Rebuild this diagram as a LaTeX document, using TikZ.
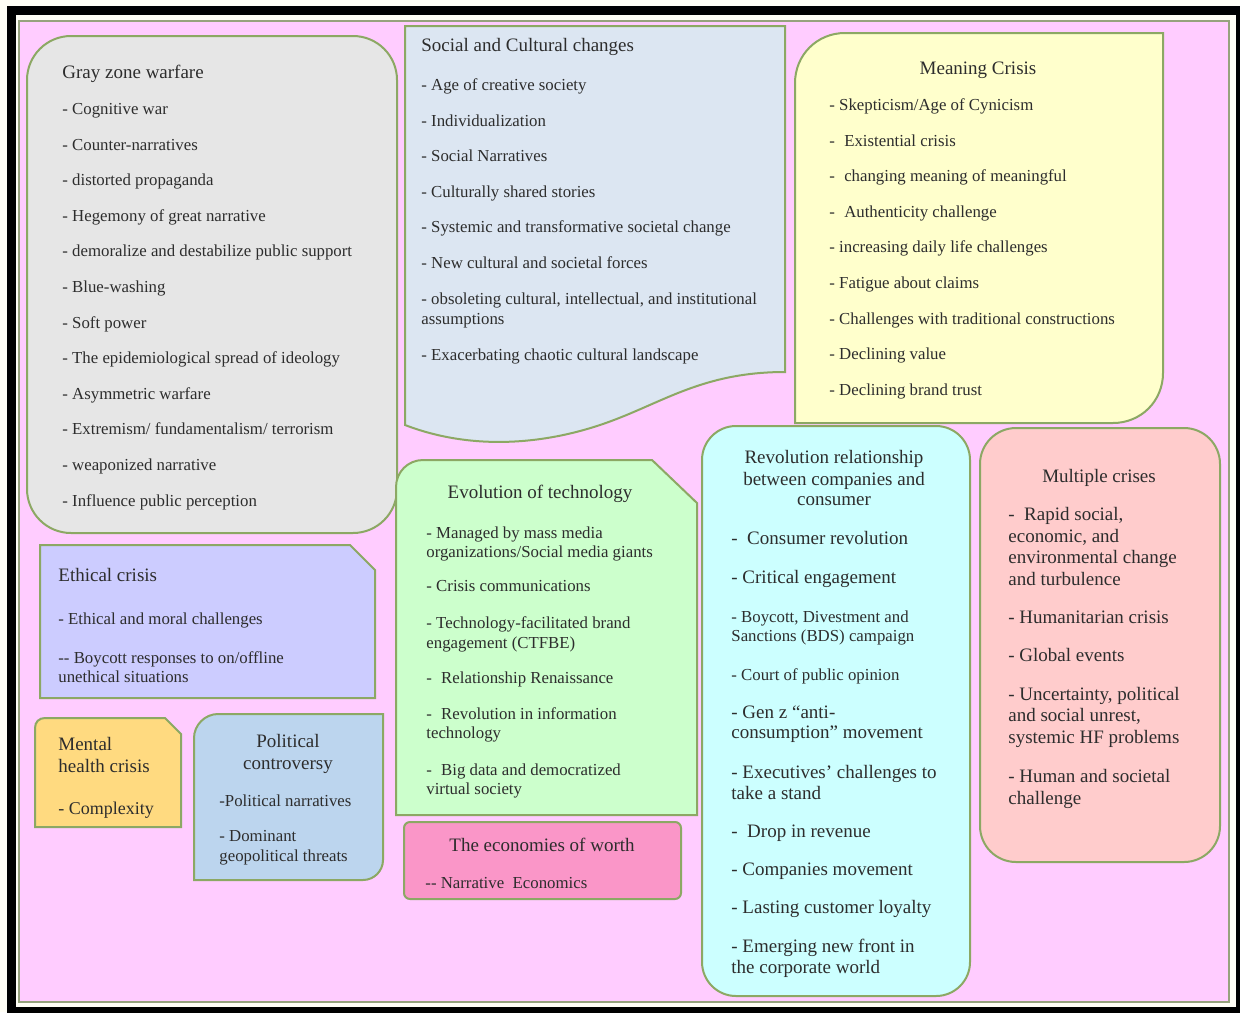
\documentclass[tikz,border=0pt]{standalone}
\usepackage{fontspec}
\setmainfont{Liberation Serif}
\usetikzlibrary{positioning}

\definecolor{pinkbg}{RGB}{255,204,255}
\definecolor{boxedge}{RGB}{140,168,100}
\definecolor{framegreen}{RGB}{150,162,125}
\definecolor{txt}{RGB}{45,45,45}
\definecolor{grayfill}{RGB}{230,230,230}
\definecolor{socfill}{RGB}{220,230,242}
\definecolor{meanfill}{RGB}{255,255,204}
\definecolor{ethfill}{RGB}{204,204,255}
\definecolor{mentfill}{RGB}{255,218,128}
\definecolor{polfill}{RGB}{188,213,238}
\definecolor{evofill}{RGB}{204,255,204}
\definecolor{econfill}{RGB}{250,150,200}
\definecolor{revfill}{RGB}{204,255,255}
\definecolor{multfill}{RGB}{255,204,204}

\tikzset{
  box/.style={draw=boxedge,line width=1pt},
  ttl/.style={anchor=mid west,inner sep=0pt,yshift=-1pt,text=txt,font=\fontsize{9.5}{11}\selectfont},
  ctr/.style={ttl,anchor=mid},
  itm/.style={anchor=mid west,inner sep=0pt,yshift=-1pt,text=txt,font=\fontsize{8.4}{10}\selectfont},
  bitm/.style={itm,font=\fontsize{9.5}{11}\selectfont},
}

\begin{document}
\begin{tikzpicture}[x=0.5pt,y=-0.5pt]
\useasboundingbox (0,0) rectangle (1240,1012);
% frame
\fill[white!96!yellow] (0,0) rectangle (1240,1012);
\draw[line width=4.5pt] (11,10) rectangle (1240,1011);
\draw[framegreen,fill=pinkbg,line width=1pt] (19,21) rectangle (1229,1002);

% boxes
\draw[box,fill=grayfill,rounded corners=22pt] (27,36) rectangle (397,533);
\draw[box,fill=socfill] (405,26) -- (785,26) -- (785,372)
  .. controls (700,372) and (660,405) .. (600,425)
  .. controls (540,445) and (470,450) .. (405,425) -- cycle;
\draw[box,fill=meanfill] (795,423) -- (795,83) .. controls (795,55) and (817,33) .. (845,33)
  -- (1163,33) -- (1163,373) .. controls (1163,401) and (1141,423) .. (1113,423) -- cycle;
\draw[box,fill=ethfill] (40,545) -- (350,545) -- (375,570) -- (375,698) -- (40,698) -- cycle;
\draw[box,fill=mentfill] (35,827) -- (35,728) .. controls (35,722) and (39,718) .. (45,718)
  -- (165,718) -- (181,734) -- (181,827) -- cycle;
\draw[box,fill=polfill] (194,880) -- (194,738) .. controls (194,725) and (205,714) .. (218,714)
  -- (383,714) -- (383,860) .. controls (383,871) and (374,880) .. (363,880) -- cycle;
\draw[box,fill=evofill] (396,815) -- (396,487) .. controls (396,472) and (408,460) .. (423,460)
  -- (652,460) -- (697,503) -- (697,815) -- cycle;
\draw[box,fill=econfill,rounded corners=3pt] (404,822) rectangle (681,899);
\draw[box,fill=revfill,rounded corners=17pt] (702,426) rectangle (970,996);
\draw[box,fill=multfill,rounded corners=18pt] (980,428) rectangle (1220,862);

% gray zone warfare
\node[ttl] (gray) at (62,72) {Gray zone warfare};
\foreach \t [count=\i] in {Cognitive war, Counter-narratives, distorted propaganda,
  Hegemony of great narrative, demoralize and destabilize public support, Blue-washing,
  Soft power, The epidemiological spread of ideology, Asymmetric warfare,
  Extremism/ fundamentalism/ terrorism, weaponized narrative, Influence public perception}
  \node[itm] (gray\i) at (62,{108+35.6*(\i-1)}) {- \t};

% social and cultural changes
\node[ttl] (soc) at (421,45) {Social and Cultural changes};
\foreach \t [count=\i] in {Age of creative society, Individualization, Social Narratives,
  Culturally shared stories, Systemic and transformative societal change,
  New cultural and societal forces}
  \node[itm] (soc\i) at (421,{84+35.6*(\i-1)}) {- \t};
\node[itm] (soc7) at (421,298) {- obsoleting cultural, intellectual, and institutional};
\node[itm] (soc7b) at (421,318) {assumptions};
\node[itm] (soc8) at (421,354) {- Exacerbating chaotic cultural landscape};

% meaning crisis
\node[ctr] (mean) at (978,68) {Meaning Crisis};
\foreach \t [count=\i] in {- Skepticism/Age of Cynicism, -\hspace{.55em}Existential crisis,
  -\hspace{.55em}changing meaning of meaningful, -\hspace{.55em}Authenticity challenge,
  - increasing daily life challenges, - Fatigue about claims,
  - Challenges with traditional constructions, - Declining value, - Declining brand trust}
  \node[itm] (mean\i) at (829,{104+35.6*(\i-1)}) {\t};

% ethical crisis
\node[ttl] (eth) at (58,575) {Ethical crisis};
\node[itm] (eth1) at (58,618) {- Ethical and moral challenges};
\node[itm] (eth2) at (58,657) {-{}- Boycott responses to on/offline};
\node[itm] (eth2b) at (58,676) {unethical situations};

% mental health crisis
\node[ttl] (ment) at (58,744) {Mental};
\node[ttl] (mentb) at (58,766) {health crisis};
\node[itm,font=\fontsize{9}{11}\selectfont] (ment1) at (58,808) {- Complexity};

% political controversy
\node[ctr] (pol) at (288,741) {Political};
\node[ctr] (polb) at (288,763) {controversy};
\node[itm] (pol1) at (219,800) {-Political narratives};
\node[itm] (pol2) at (219,835) {- Dominant};
\node[itm] (pol2b) at (219,855) {geopolitical threats};

% evolution of technology
\node[ctr] (evo) at (540,492) {Evolution of technology};
\node[itm] (evo1) at (426,532) {- Managed by mass media};
\node[itm] (evo1b) at (426,551) {organizations/Social media giants};
\node[itm] (evo2) at (426,585) {- Crisis communications};
\node[itm] (evo3) at (426,622) {- Technology-facilitated brand};
\node[itm] (evo3b) at (426,642) {engagement (CTFBE)};
\node[itm] (evo4) at (426,677) {-\hspace{.55em}Relationship Renaissance};
\node[itm] (evo5) at (426,713) {-\hspace{.55em}Revolution in information};
\node[itm] (evo5b) at (426,732) {technology};
\node[itm] (evo6) at (426,769) {-\hspace{.55em}Big data and democratized};
\node[itm] (evo6b) at (426,788) {virtual society};

% economies of worth
\node[ctr] (econ) at (542,845) {The economies of worth};
\node[itm] (econ1) at (425,882) {-{}- Narrative\ \ Economics};

% revolution relationship
\node[ctr] (rev) at (834,457) {Revolution relationship};
\node[ctr] (revb) at (834,479) {between companies and};
\node[ctr] (revc) at (834,499) {consumer};
\node[bitm] (rev1) at (731,538) {-\hspace{.5em}Consumer revolution};
\node[bitm] (rev2) at (731,577) {- Critical engagement};
\node[itm] (rev3) at (731,616) {- Boycott, Divestment and};
\node[itm] (rev3b) at (731,635) {Sanctions (BDS) campaign};
\node[itm] (rev4) at (731,674) {- Court of public opinion};
\node[bitm] (rev5) at (731,712) {- Gen z ``anti-};
\node[bitm] (rev5b) at (731,732) {consumption'' movement};
\node[bitm] (rev6) at (731,772) {- Executives' challenges to};
\node[bitm] (rev6b) at (731,793) {take a stand};
\node[bitm] (rev7) at (731,831) {-\hspace{.5em}Drop in revenue};
\node[bitm] (rev8) at (731,869) {- Companies movement};
\node[bitm] (rev9) at (731,907) {- Lasting customer loyalty};
\node[bitm] (rev10) at (731,946) {- Emerging new front in};
\node[bitm] (rev10b) at (731,967) {the corporate world};

% multiple crises
\node[ctr] (mult) at (1099,476) {Multiple crises};
\node[bitm] (mult1) at (1008,514) {-\hspace{.5em}Rapid social,};
\node[bitm] (mult1b) at (1008,536) {economic, and};
\node[bitm] (mult1c) at (1008,557) {environmental change};
\node[bitm] (mult1d) at (1008,579) {and turbulence};
\node[bitm] (mult2) at (1008,617) {- Humanitarian crisis};
\node[bitm] (mult3) at (1008,655) {- Global events};
\node[bitm] (mult4) at (1008,694) {- Uncertainty, political};
\node[bitm] (mult4b) at (1008,715) {and social unrest,};
\node[bitm] (mult4c) at (1008,737) {systemic HF problems};
\node[bitm] (mult5) at (1008,776) {- Human and societal};
\node[bitm] (mult5b) at (1008,798) {challenge};
\end{tikzpicture}
\end{document}
